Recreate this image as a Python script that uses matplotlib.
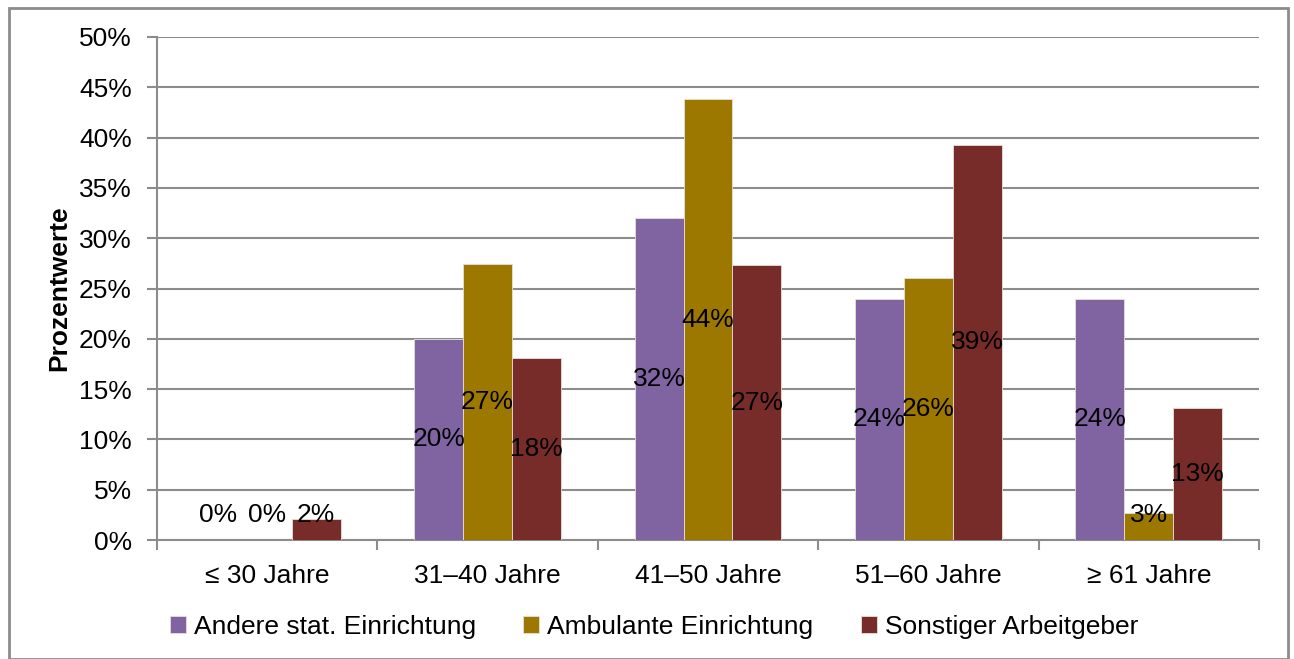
import matplotlib
matplotlib.use("Agg")
import matplotlib.pyplot as plt
import numpy as np
from matplotlib.patches import Rectangle

categories = ["≤ 30 Jahre", "31–40 Jahre", "41–50 Jahre", "51–60 Jahre", "≥ 61 Jahre"]
series_names = ["Andere stat. Einrichtung", "Ambulante Einrichtung", "Sonstiger Arbeitgeber"]
andere = [0, 20.0, 32.0, 24.0, 24.0]
ambulant = [0, 27.4, 43.8, 26.0, 2.7]
sonstiger = [2.1, 18.1, 27.3, 39.3, 13.1]
colors = ["#8064A2", "#9C7800", "#772C2A"]
yticks = [0, 5, 10, 15, 20, 25, 30, 35, 40, 45, 50]

plt.rcParams['font.family'] = ['Liberation Sans', 'DejaVu Sans']
FS = 19

fig = plt.figure(figsize=(12.94, 6.59), dpi=100)
ax = fig.add_axes([157/1294, 1-540/659, (1259-157)/1294, (540-37)/659])

x = np.arange(len(categories))
w = 0.222
grid_c = "#8C8C8C"
for i, (vals, c, name) in enumerate(zip([andere, ambulant, sonstiger], colors, series_names)):
    pos = x + (i - 1) * w
    ax.bar(pos, vals, width=w, color=c, edgecolor="#E8E0D8", linewidth=0.6, label=name, zorder=3)
    for p, v in zip(pos, vals):
        ax.text(p, max(v / 2, 2.5), f"{v:.0f}%", ha="center", va="center", fontsize=FS, color="black", zorder=4)

ax.set_xlim(-0.5, 4.5)
ax.set_ylim(0, 50)
ax.set_yticks(yticks)
ax.set_yticklabels([f"{t}%" for t in yticks], fontsize=FS)
ax.set_xticks(x)
ax.set_xticklabels(categories, fontsize=FS)
ax.set_xticks(np.arange(-0.5, 5.0, 1.0), minor=True)
ax.tick_params(axis="x", which="major", length=0, pad=17)
ax.tick_params(axis="x", which="minor", length=7, color=grid_c, width=1.5)
ax.tick_params(axis="y", length=7, color=grid_c, width=1.5, pad=11)
ax.yaxis.grid(True, color=grid_c, linewidth=1.5, zorder=0)
ax.set_axisbelow(True)
for s in ["top", "right"]:
    ax.spines[s].set_visible(False)
for s in ["left", "bottom"]:
    ax.spines[s].set_color(grid_c)
    ax.spines[s].set_linewidth(1.5)
ax.set_ylabel("Prozentwerte", fontsize=FS, fontweight="bold", labelpad=6)

fig.legend(loc="center", bbox_to_anchor=(654/1294, 1-627/659), ncol=3, frameon=False,
           fontsize=FS, handlelength=0.6, handleheight=0.6, handletextpad=0.3, columnspacing=1.8)

fig.patches.append(Rectangle((9/1294, 0.5/659), (1288-9)/1294, (651-0.5)/659, transform=fig.transFigure,
                             fill=False, edgecolor="#8C8C8C", linewidth=2))

fig.savefig("out.png", dpi=100)
